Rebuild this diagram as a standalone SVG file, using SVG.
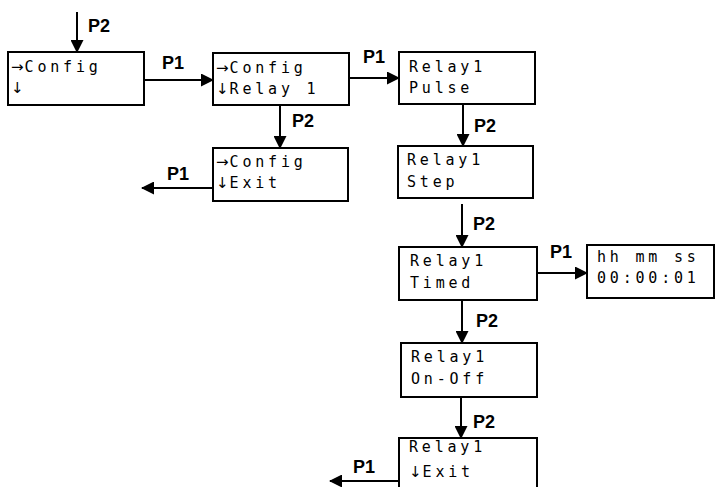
<svg xmlns="http://www.w3.org/2000/svg" width="715" height="487" viewBox="0 0 715 487">
<defs>
<marker id="ah" markerWidth="13" markerHeight="13" refX="12" refY="6.5" orient="auto" markerUnits="userSpaceOnUse">
<path d="M0,0 L13,6.5 L0,13 z" fill="#000"/>
</marker>
<style>
.box{fill:#fff;stroke:#000;stroke-width:2}
.lcd{font-family:"DejaVu Sans Mono",monospace;font-size:15px;letter-spacing:3.8px;fill:#000}
.ar{font-family:"DejaVu Sans",sans-serif;font-size:15px;letter-spacing:1px}
.lbl{font-family:"Liberation Sans",Arial,sans-serif;font-size:18px;font-weight:bold;fill:#000}
.con{stroke:#000;stroke-width:2;fill:none;marker-end:url(#ah)}
</style>
</defs>
<rect width="715" height="487" fill="#fff"/>
<g id="connectors">
<line class="con" x1="77" y1="12" x2="77" y2="52"/>
<line class="con" x1="144" y1="80" x2="213" y2="80"/>
<line class="con" x1="349" y1="78" x2="399" y2="78"/>
<line class="con" x1="280" y1="105" x2="280" y2="148"/>
<line class="con" x1="213" y1="188" x2="142" y2="188"/>
<line class="con" x1="463" y1="104" x2="463" y2="146"/>
<line class="con" x1="462" y1="204" x2="462" y2="247"/>
<line class="con" x1="537" y1="273" x2="587" y2="273"/>
<line class="con" x1="462" y1="300" x2="462" y2="343"/>
<line class="con" x1="461" y1="397" x2="461" y2="438"/>
<line class="con" x1="399" y1="481" x2="330" y2="481"/>
<text class="lbl" x="88" y="32">P2</text>
<text class="lbl" x="162" y="69">P1</text>
<text class="lbl" x="363" y="63">P1</text>
<text class="lbl" x="292" y="127">P2</text>
<text class="lbl" x="167" y="180">P1</text>
<text class="lbl" x="474" y="132">P2</text>
<text class="lbl" x="473" y="230">P2</text>
<text class="lbl" x="550" y="258">P1</text>
<text class="lbl" x="476" y="327">P2</text>
<text class="lbl" x="473" y="428">P2</text>
<text class="lbl" x="353" y="473">P1</text>
</g>
<g id="config1">
<rect class="box" x="8" y="52" width="136" height="53"/>
<text class="lcd" x="11" y="72"><tspan class="ar">→</tspan>Config</text>
<text class="lcd" x="11" y="93"><tspan class="ar">↓</tspan></text>
</g>
<g id="config2">
<rect class="box" x="213" y="53" width="136" height="52"/>
<text class="lcd" x="216" y="73"><tspan class="ar">→</tspan>Config</text>
<text class="lcd" x="216" y="94"><tspan class="ar">↓</tspan>Relay 1</text>
</g>
<g id="configExit">
<rect class="box" x="213" y="148" width="135" height="53"/>
<text class="lcd" x="216" y="167"><tspan class="ar">→</tspan>Config</text>
<text class="lcd" x="216" y="188"><tspan class="ar">↓</tspan>Exit</text>
</g>
<g id="pulse">
<rect class="box" x="399" y="52" width="136" height="52"/>
<text class="lcd" x="409" y="72">Relay1</text>
<text class="lcd" x="409" y="93">Pulse</text>
</g>
<g id="step">
<rect class="box" x="398" y="146" width="135" height="52"/>
<text class="lcd" x="407" y="165">Relay1</text>
<text class="lcd" x="407" y="187">Step</text>
</g>
<g id="timed">
<rect class="box" x="399" y="247" width="138" height="53"/>
<text class="lcd" x="410" y="266">Relay1</text>
<text class="lcd" x="410" y="288">Timed</text>
</g>
<g id="hms">
<rect class="box" x="587" y="245" width="127" height="53"/>
<text class="lcd" x="597" y="262">hh mm ss</text>
<text class="lcd" x="597" y="283">00:00:01</text>
</g>
<g id="onoff">
<rect class="box" x="401" y="343" width="136" height="54"/>
<text class="lcd" x="411" y="362">Relay1</text>
<text class="lcd" x="411" y="384">On-Off</text>
</g>
<g id="relayExit">
<rect class="box" x="399" y="438" width="138" height="60"/>
<text class="lcd" x="409" y="452">Relay1</text>
<text class="lcd" x="409" y="477"><tspan class="ar">↓</tspan>Exit</text>
</g>
</svg>
